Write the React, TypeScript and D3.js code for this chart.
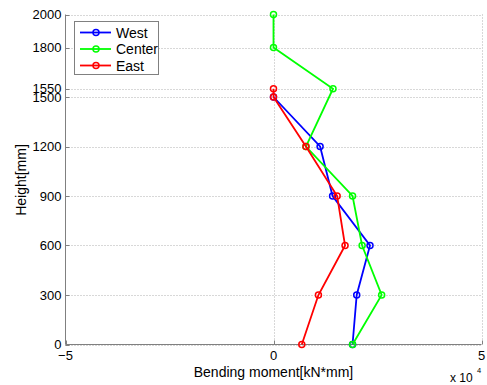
import React from 'react';
import * as d3 from 'd3';

const yTicks = [0, 300, 600, 900, 1200, 1500, 1550, 1800, 2000];
const xTicks = [-5, 0, 5];

// moments in units of 1e4 kN*mm
const westH = [0, 300, 600, 900, 1200, 1500];
const westM = [1.9, 2.0, 2.32, 1.42, 1.12, 0];
const centerH = [0, 300, 600, 900, 1200, 1550, 1800, 2000];
const centerM = [1.9, 2.6, 2.13, 1.9, 0.78, 1.43, 0, 0];
const eastH = [0, 300, 600, 900, 1200, 1500, 1550];
const eastM = [0.68, 1.08, 1.72, 1.53, 0.78, 0, 0];

const series = [
  { name: 'West', color: '#0000ff', h: westH, m: westM },
  { name: 'Center', color: '#00ff00', h: centerH, m: centerM },
  { name: 'East', color: '#ff0000', h: eastH, m: eastM },
];

const W = 487;
const H = 385;
const left = 65.5;
const right = 481.5;
const top = 14.5;
const bottom = 344.5;

export default function App() {
  const x = d3.scaleLinear().domain([-5, 5]).range([left, right]);
  const y = d3.scaleLinear().domain([0, 2000]).range([bottom, top]);
  const font = 'Liberation Sans, Arial, sans-serif';

  const line = d3
    .line<[number, number]>()
    .x(d => x(d[0]))
    .y(d => y(d[1]));

  return (
    <svg
      width={W}
      height={H}
      style={{ position: 'absolute', left: 0, top: 0, background: '#fff' }}
      fontFamily={font}
    >
      {/* grid */}
      {yTicks.map(t => (
        <line key={'gy' + t} x1={left} x2={right} y1={Math.round(y(t)) + 0.5} y2={Math.round(y(t)) + 0.5}
          stroke="#b0b0b0" strokeWidth={1} strokeDasharray="1,2" />
      ))}
      {xTicks.slice(1).map(t => (
        <line key={'gx' + t} x1={Math.round(x(t)) + 0.5} x2={Math.round(x(t)) + 0.5} y1={top} y2={bottom}
          stroke="#b0b0b0" strokeWidth={1} strokeDasharray="1,2" />
      ))}

      {/* axes */}
      <line x1={left} x2={left} y1={top} y2={bottom} stroke="#808080" />
      <line x1={left} x2={right} y1={bottom} y2={bottom} stroke="#808080" />
      {yTicks.map(t => (
        <line key={'ty' + t} x1={left} x2={left + 4} y1={Math.round(y(t)) + 0.5} y2={Math.round(y(t)) + 0.5} stroke="#808080" />
      ))}
      {xTicks.map(t => (
        <line key={'tx' + t} x1={Math.round(x(t)) + 0.5} x2={Math.round(x(t)) + 0.5} y1={bottom} y2={bottom - 4} stroke="#808080" />
      ))}

      {/* tick labels */}
      {yTicks.map(t => (
        <text key={'ly' + t} x={left - 4} y={y(t) + 4.5} textAnchor="end" fontSize={13} fill="#000">{t}</text>
      ))}
      {xTicks.map(t => (
        <text key={'lx' + t} x={x(t)} y={bottom + 15} textAnchor="middle" fontSize={13} fill="#000">
          {t < 0 ? '\u2212' + Math.abs(t) : t}
        </text>
      ))}

      {/* axis labels */}
      <text x={x(0)} y={377} textAnchor="middle" fontSize={14} fill="#000">Bending moment[kN*mm]</text>
      <text transform={`translate(22,180) rotate(-90)`} textAnchor="middle" dominantBaseline="middle" fontSize={14} fill="#000">Height[mm]</text>
      <text x={450} y={382} fontSize={12} fill="#000">x 10</text>
      <text x={477} y={373} fontSize={7.5} fill="#000">4</text>

      {/* series */}
      {series.map(s => {
        const pts: [number, number][] = s.h.map((h, i) => [s.m[i], h]);
        return (
          <g key={s.name}>
            <path d={line(pts) || ''} fill="none" stroke={s.color} strokeWidth={1.8} />
            {pts.map((p, i) => (
              <circle key={i} cx={x(p[0])} cy={y(p[1])} r={3} fill="none" stroke={s.color} strokeWidth={1.5} />
            ))}
          </g>
        );
      })}

      {/* legend */}
      <rect x={74.5} y={21.5} width={84} height={53} fill="#fff" stroke="#808080" />
      {series.map((s, i) => {
        const ly = 32.5 + i * 16.5;
        return (
          <g key={'lg' + s.name}>
            <line x1={80} x2={111} y1={ly} y2={ly} stroke={s.color} strokeWidth={1.8} />
            <circle cx={96} cy={ly} r={3} fill="none" stroke={s.color} strokeWidth={1.5} />
            <text x={116} y={ly + 5} fontSize={14} fill="#000">{s.name}</text>
          </g>
        );
      })}
    </svg>
  );
}
